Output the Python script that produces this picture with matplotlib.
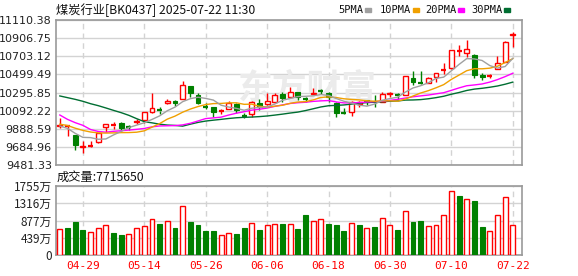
import matplotlib
matplotlib.use('Agg')
import matplotlib.pyplot as plt
import numpy as np

# 交易日
dates = ['04-24', '04-25', '04-28', '04-29', '04-30', '05-06', '05-07', '05-08', '05-09', '05-12',
         '05-13', '05-14', '05-15', '05-16', '05-19', '05-20', '05-21', '05-22', '05-23', '05-26',
         '05-27', '05-28', '05-29', '05-30', '06-03', '06-04', '06-05', '06-06', '06-09', '06-10',
         '06-11', '06-12', '06-13', '06-16', '06-17', '06-18', '06-19', '06-20', '06-23', '06-24',
         '06-25', '06-26', '06-27', '06-30', '07-01', '07-02', '07-03', '07-04', '07-07', '07-08',
         '07-09', '07-10', '07-11', '07-14', '07-15', '07-16', '07-17', '07-18', '07-21', '07-22']
tick_dates = ['04-29', '05-14', '05-26', '06-06', '06-18', '06-30', '07-10', '07-22']

# 开高低收
opens = [9916, 9915, 9818, 9682, 9690, 9736, 9912, 9925, 9949, 9915,
         9962, 9987, 10073, 10100, 10174, 10204, 10223, 10369, 10268, 10140,
         10129, 10085, 10107, 10163, 10035, 10054, 10174, 10163, 10193, 10275,
         10242, 10298, 10225, 10283, 10315, 10287, 10174, 10073, 10080, 10167,
         10210, 10200, 10193, 10280, 10270, 10268, 10455, 10410, 10406, 10466,
         10545, 10567, 10758, 10743, 10717, 10493, 10480, 10560, 10642, 10940]
highs = [10006, 9931, 9822, 9751, 9751, 9840, 9942, 9961, 9968, 9931,
         9994, 10075, 10286, 10137, 10223, 10212, 10425, 10372, 10286, 10174,
         10133, 10114, 10204, 10182, 10062, 10196, 10219, 10287, 10287, 10305,
         10361, 10300, 10242, 10343, 10331, 10305, 10193, 10118, 10200, 10196,
         10215, 10268, 10305, 10305, 10287, 10485, 10537, 10537, 10470, 10515,
         10624, 10776, 10830, 10886, 10725, 10511, 10504, 10706, 10875, 10975]
lows = [9893, 9807, 9650, 9620, 9688, 9730, 9856, 9882, 9863, 9875,
        9942, 9949, 10070, 10051, 10163, 10144, 10220, 10249, 10163, 10107,
        10017, 10054, 10105, 10069, 10006, 10017, 10099, 10160, 10174, 10193,
        10230, 10212, 10193, 10280, 10275, 10193, 10017, 10050, 10032, 10137,
        10160, 10137, 10190, 10249, 10219, 10265, 10380, 10387, 10400, 10418,
        10504, 10560, 10706, 10691, 10455, 10436, 10455, 10555, 10635, 10811]
closes = [9931, 9920, 9706, 9692, 9697, 9837, 9938, 9933, 9893, 9910,
          9972, 10073, 10118, 10093, 10200, 10174, 10380, 10286, 10174, 10133,
          10081, 10092, 10182, 10099, 10030, 10193, 10137, 10204, 10268, 10238,
          10298, 10242, 10220, 10294, 10310, 10249, 10069, 10066, 10193, 10189,
          10196, 10185, 10279, 10290, 10265, 10481, 10418, 10406, 10455, 10511,
          10553, 10773, 10765, 10781, 10493, 10466, 10488, 10624, 10867, 10950]

# 成交量(万)
volumes = [661, 687, 839, 636, 585, 678, 755, 560, 509, 534,
           678, 729, 907, 788, 856, 687, 1238, 839, 763, 610,
           610, 500, 551, 534, 687, 805, 636, 755, 780, 788,
           780, 661, 1017, 856, 907, 788, 763, 610, 814, 763,
           678, 712, 933, 755, 636, 1111, 839, 865, 729, 755,
           1009, 1619, 1501, 1416, 1373, 712, 610, 1009, 1467, 771.565]

# 均线开头几根(窗口不满，从图上读取)
ma5_head = [9920, 9893, 9837, 9792]
ma10_head = [9940, 9925, 9895, 9870, 9852, 9842, 9840, 9842, 9845]
ma20_head = [10043, 9994, 9957, 9927, 9880, 9858, 9850, 9860, 9866, 9874,
             9882, 9892, 9910, 9920, 9922, 9924, 9932, 9950, 9976]
ma30_head = [10257, 10238, 10219, 10197, 10170, 10148, 10122, 10095, 10069, 10039,
             10002, 9968, 9955, 9940, 9930, 9926, 9918, 9940, 9960, 9975,
             9985, 9994, 10004, 10012, 10017, 10020, 10025, 10032, 10042]

price_labels = ['9481.33', '9684.96', '9888.59', '10092.22', '10295.85',
                '10499.49', '10703.12', '10906.75', '11110.38']
vol_labels = ['0', '439万', '877万', '1316万', '1755万']

RED = '#ff0000'
GREEN = '#008000'
GRID = '#d3d3d3'
FRAME = '#999999'
ma_colors = {'5PMA': '#a0a0a0', '10PMA': '#f0a000', '20PMA': '#ff00ff', '30PMA': '#006e32'}


def moving_avg(vals, n, head):
    out = list(head)
    for i in range(len(head), len(vals)):
        out.append(np.mean(vals[i - n + 1:i + 1]))
    return out


plt.rcParams['font.family'] = ['DejaVu Sans']
cjk = ['Noto Sans CJK SC', 'DejaVu Sans']

fig = plt.figure(figsize=(5.78, 2.76), dpi=100, facecolor='w')
ax = fig.add_axes([56 / 578, 1 - 165 / 276, 466 / 578, 145 / 276])
axv = fig.add_axes([56 / 578, 1 - 255 / 276, 466 / 578, 69 / 276])

n = len(closes)
x = np.arange(n)
xlim = (-0.5, 60.2)
tick_pos = [dates.index(d) for d in tick_dates]
w = 0.64

## K线
o = np.array(opens, float); c = np.array(closes, float)
h = np.array(highs, float); l = np.array(lows, float)
top = np.maximum(o, c); bot = np.minimum(o, c)
for i in range(n):
    col = RED if c[i] >= o[i] else GREEN
    ax.vlines(x[i], top[i], h[i], color=col, lw=1.0, zorder=3)
    ax.vlines(x[i], l[i], bot[i], color=col, lw=1.0, zorder=3)
    if top[i] - bot[i] < 10:
        ax.hlines((o[i] + c[i]) / 2, x[i] - w / 2, x[i] + w / 2, color=col, lw=1.6, zorder=3)
    elif col == RED:
        ax.bar(x[i], top[i] - bot[i], w, bot[i], facecolor='white', edgecolor=RED, lw=1.0, zorder=3)
    else:
        ax.bar(x[i], top[i] - bot[i], w, bot[i], facecolor=GREEN, edgecolor=GREEN, lw=0.8, zorder=3)

## 均线
mas = {'5PMA': moving_avg(closes, 5, ma5_head),
       '10PMA': moving_avg(closes, 10, ma10_head),
       '20PMA': moving_avg(closes, 20, ma20_head),
       '30PMA': moving_avg(closes, 30, ma30_head)}
for name in ['30PMA', '20PMA', '10PMA', '5PMA']:
    ax.plot(x, mas[name], color=ma_colors[name], lw=1.0, zorder=4)

# 水印
ax.text(0.54, 0.53, '东方财富', transform=ax.transAxes, family=cjk, fontsize=25,
        fontweight='bold', color='#ebebeb', ha='center', va='center', zorder=1)

ptick = [float(s) for s in price_labels]
ax.set_ylim(ptick[0], ptick[-1])
ax.set_xlim(*xlim)
ax.set_yticks(ptick)
ax.set_yticklabels(price_labels, fontsize=8, color='#222222')
ax.set_xticks(tick_pos)
ax.set_xticklabels([])
ax.grid(axis='y', color=GRID, lw=1.0, zorder=0)
ax.grid(axis='x', color=GRID, lw=1.0, ls=(0, (4, 3)), zorder=0)
ax.set_axisbelow(True)
ax.tick_params(length=0, pad=3)

## 成交量
vol_up = [True] + [closes[i] >= closes[i - 1] for i in range(1, n)]
for i in range(n):
    if vol_up[i]:
        axv.bar(x[i], volumes[i], w, facecolor='white', edgecolor=RED, lw=1.0, zorder=3)
    else:
        axv.bar(x[i], volumes[i], w, facecolor=GREEN, edgecolor=GREEN, lw=0.8, zorder=3)

vtick = [0, 438.75, 877.5, 1316.25, 1755]
axv.set_ylim(0, 1755)
axv.set_xlim(*xlim)
axv.set_yticks(vtick)
axv.set_yticklabels(vol_labels, family=cjk, fontsize=8.5, color='#222222')
axv.set_xticks(tick_pos)
axv.set_xticklabels(tick_dates, family='DejaVu Sans Mono', fontsize=8, color=RED)
axv.grid(axis='y', color=GRID, lw=1.0, zorder=0)
axv.grid(axis='x', color=GRID, lw=1.0, ls=(0, (4, 3)), zorder=0)
axv.set_axisbelow(True)
axv.tick_params(length=0, pad=3)
axv.tick_params(axis='x', pad=4)

for a in (ax, axv):
    for s in a.spines.values():
        s.set_color(FRAME)
        s.set_linewidth(1.2)

## 文字
fig.text(56 / 578, 1 - 10 / 276, '煤炭行业[BK0437] 2025-07-22 11:30', family=cjk,
         fontsize=8.8, color='#111111', va='center', ha='left')
fig.text(57 / 578, 1 - 177 / 276, '成交量:7715650', family=cjk,
         fontsize=8.8, color='#111111', va='center', ha='left')

lx = [338, 380, 425, 471]
for (name, col), px in zip(ma_colors.items(), lx):
    fig.text(px / 578, 1 - 10 / 276, name, family='DejaVu Sans Mono', fontsize=7.5,
             color='#111111', va='center', ha='left')
    sq_x = px + len(name) * 6.2 + 2
    fig.patches.append(plt.Rectangle((sq_x / 578, 1 - 12 / 276), 6 / 578, 4 / 276,
                                     transform=fig.transFigure, color=col, figure=fig))

fig.savefig('out.png', dpi=100, facecolor='w')
